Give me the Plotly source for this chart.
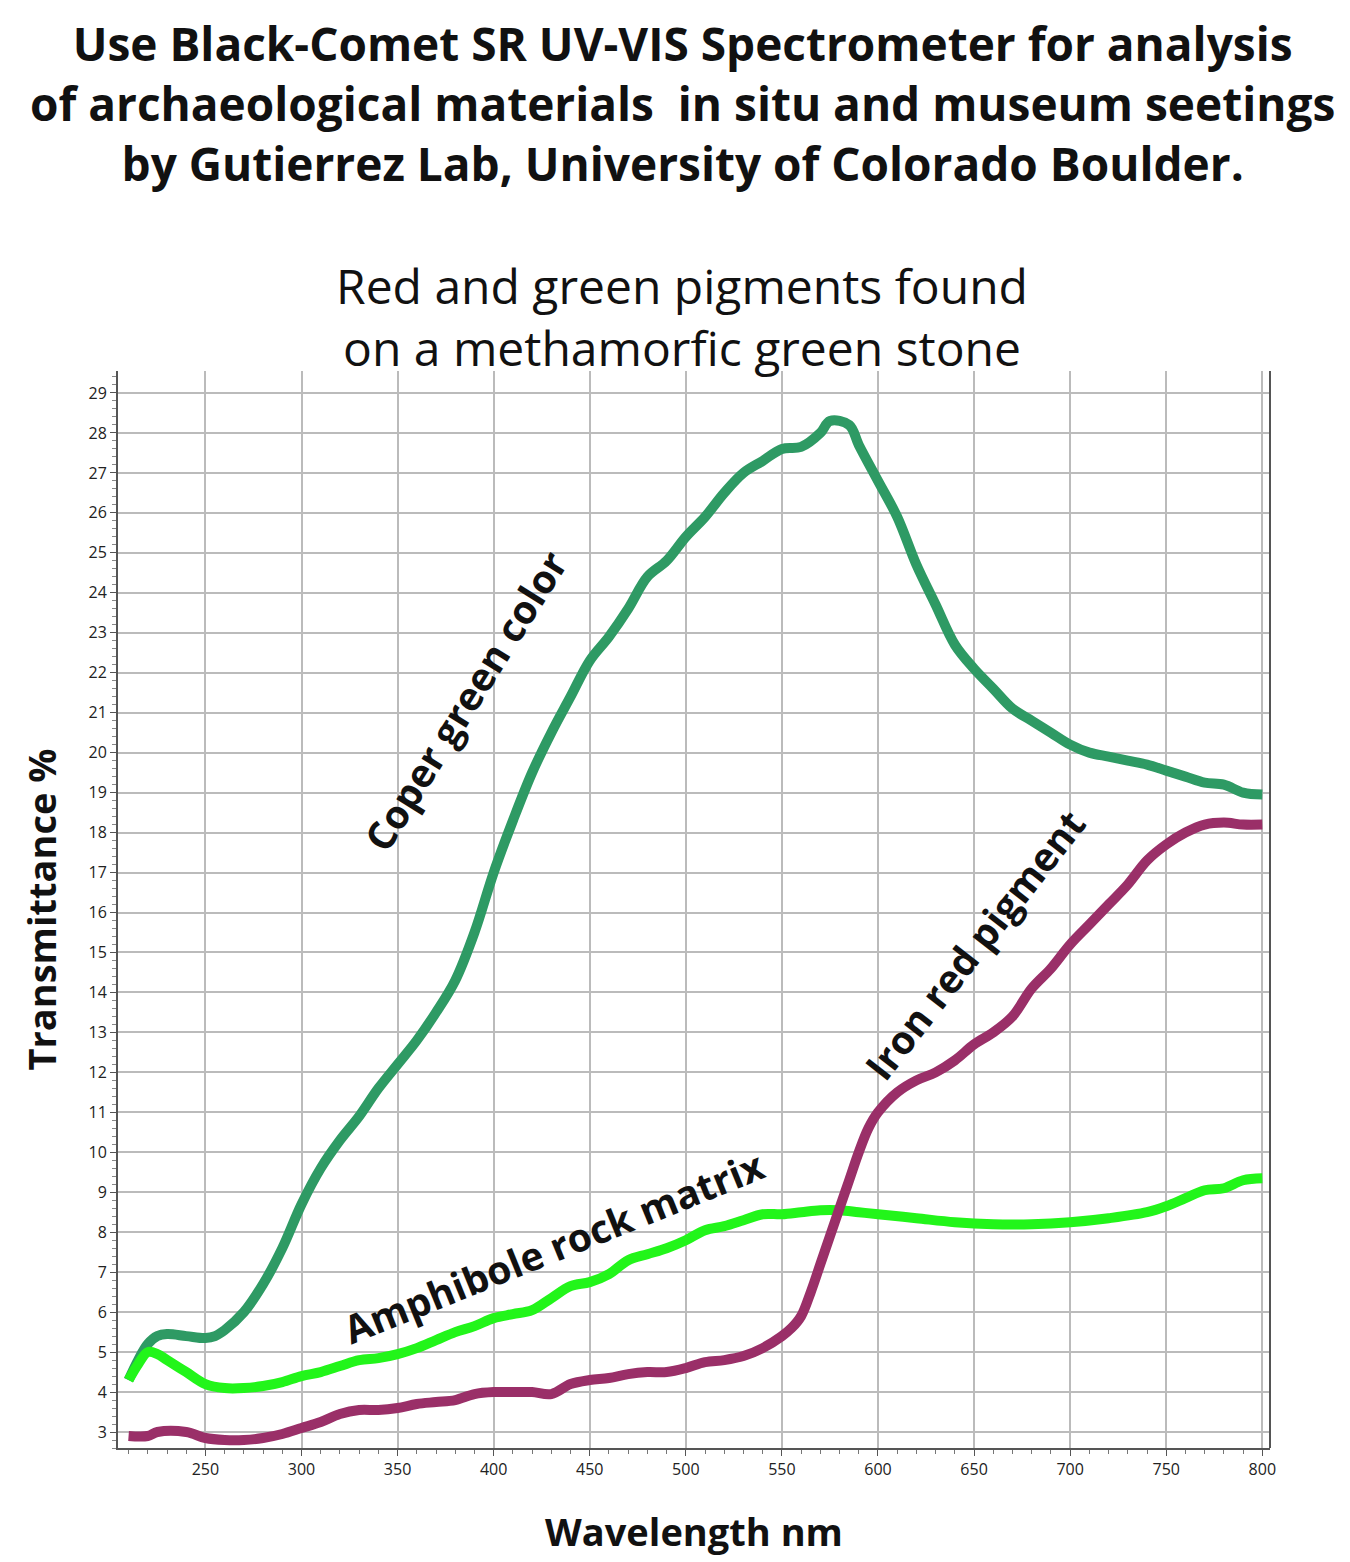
import plotly.graph_objects as go

wl_green = [210,215,220,225,230,240,250,255,260,270,280,290,300,310,320,330,340,350,360,370,380,390,400,410,420,430,440,450,460,470,480,490,500,510,520,530,540,550,560,570,575,585,590,600,610,620,630,640,650,660,670,680,690,700,710,720,730,740,750,760,770,780,790,800]
t_green = [4.3,4.8,5.2,5.4,5.45,5.4,5.35,5.4,5.55,6.0,6.7,7.6,8.7,9.6,10.3,10.9,11.6,12.2,12.8,13.5,14.3,15.5,17.0,18.3,19.5,20.5,21.4,22.3,22.9,23.6,24.4,24.8,25.4,25.9,26.5,27.0,27.3,27.6,27.65,28.0,28.3,28.2,27.7,26.8,25.9,24.7,23.7,22.7,22.1,21.6,21.1,20.8,20.5,20.2,20.0,19.9,19.8,19.7,19.55,19.4,19.25,19.2,19.0,18.95]

wl_amph = [210,215,220,225,230,240,250,260,270,280,290,300,310,320,330,340,350,360,370,380,390,400,410,420,430,440,450,460,470,480,490,500,510,520,530,540,550,560,570,580,590,600,620,640,660,680,700,720,740,750,760,770,780,790,800]
t_amph = [4.3,4.7,5.0,4.95,4.8,4.5,4.2,4.1,4.1,4.15,4.25,4.4,4.5,4.65,4.8,4.85,4.95,5.1,5.3,5.5,5.65,5.85,5.95,6.05,6.35,6.65,6.75,6.95,7.3,7.45,7.6,7.8,8.05,8.15,8.3,8.45,8.45,8.5,8.55,8.55,8.5,8.45,8.35,8.25,8.2,8.2,8.25,8.35,8.5,8.65,8.85,9.05,9.1,9.3,9.35]

wl_red = [210,220,225,240,250,260,270,280,290,300,310,320,330,340,350,360,370,380,390,400,410,420,430,440,450,460,470,480,490,500,510,520,530,540,550,555,560,565,570,575,580,585,590,595,600,610,620,630,640,650,660,670,680,690,700,710,720,730,740,750,760,770,780,790,800]
t_red = [2.9,2.9,3.0,3.0,2.85,2.8,2.8,2.85,2.95,3.1,3.25,3.45,3.55,3.55,3.6,3.7,3.75,3.8,3.95,4.0,4.0,4.0,3.95,4.2,4.3,4.35,4.45,4.5,4.5,4.6,4.75,4.8,4.9,5.1,5.4,5.6,5.9,6.5,7.2,7.9,8.6,9.3,10.0,10.6,11.0,11.5,11.8,12.0,12.3,12.7,13.0,13.4,14.1,14.6,15.2,15.7,16.2,16.7,17.3,17.7,18.0,18.2,18.25,18.2,18.2]

x_ticks = [250,300,350,400,450,500,550,600,650,700,750,800]
y_ticks = list(range(3, 30))

fig = go.Figure()
for x, y, c in [(wl_green, t_green, "#2e9a64"), (wl_amph, t_amph, "#22f51a"), (wl_red, t_red, "#9a2f68")]:
    fig.add_trace(go.Scatter(x=x, y=y, mode="lines", line=dict(color=c, width=10, shape="spline"), showlegend=False))

F = "Open Sans"
ann = dict(showarrow=False, font=dict(family=F, size=39, color="#111"), xref="x", yref="y")
fig.add_annotation(text="<b>Coper green color</b>", x=385, y=21.3, textangle=-58, **ann)
fig.add_annotation(text="<b>Iron red pigment</b>", x=650, y=15.2, textangle=-52, **ann)
fig.add_annotation(text="<b>Amphibole rock matrix</b>", x=431, y=7.65, textangle=-22, **ann)

fig.add_annotation(text="<b>Use Black-Comet SR UV-VIS Spectrometer for analysis<br>of archaeological materials  in situ and museum seetings<br>by Gutierrez Lab, University of Colorado Boulder.</b>",
                   xref="paper", yref="paper", x=0.49, y=1.335, xanchor="center", yanchor="top",
                   showarrow=False, font=dict(family=F, size=46, color="#111"))
fig.add_annotation(text="Red and green pigments found<br>on a methamorfic green stone",
                   xref="paper", yref="paper", x=0.49, y=1.111, xanchor="center", yanchor="top",
                   showarrow=False, font=dict(family=F, size=48, color="#111"))

fig.update_layout(
    width=1350, height=1562, paper_bgcolor="white", plot_bgcolor="white",
    margin=dict(l=110, r=88, t=363, b=122, autoexpand=False),
    font=dict(family=F, color="#222"),
    xaxis=dict(range=[204.5, 804], tickvals=x_ticks, showgrid=True, gridcolor="#bbbbbb", gridwidth=2,
               showline=True, linecolor="#555", linewidth=2, ticks="outside", ticklen=6, tickcolor="#555",
               minor=dict(dtick=10, ticks="outside", ticklen=4, tickcolor="#777", showgrid=False),
               tickfont=dict(size=16), automargin=False,
               title=dict(text="<b>Wavelength nm</b>", font=dict(size=38, color="#111"), standoff=40)),
    yaxis=dict(range=[2.6, 29.55], tickvals=y_ticks, showgrid=True, gridcolor="#bbbbbb", gridwidth=2,
               showline=True, linecolor="#555", linewidth=2, ticks="outside", ticklen=6, tickcolor="#555",
               minor=dict(dtick=0.2, ticks="outside", ticklen=4, tickcolor="#888", showgrid=False),
               tickfont=dict(size=16), automargin=False,
               title=dict(text="<b>Transmittance %</b>", font=dict(size=38, color="#111"), standoff=20)),
)
fig.add_shape(type="line", xref="paper", yref="paper", x0=1, x1=1, y0=0, y1=1, line=dict(color="#555", width=2))
fig.write_html("out.html")
